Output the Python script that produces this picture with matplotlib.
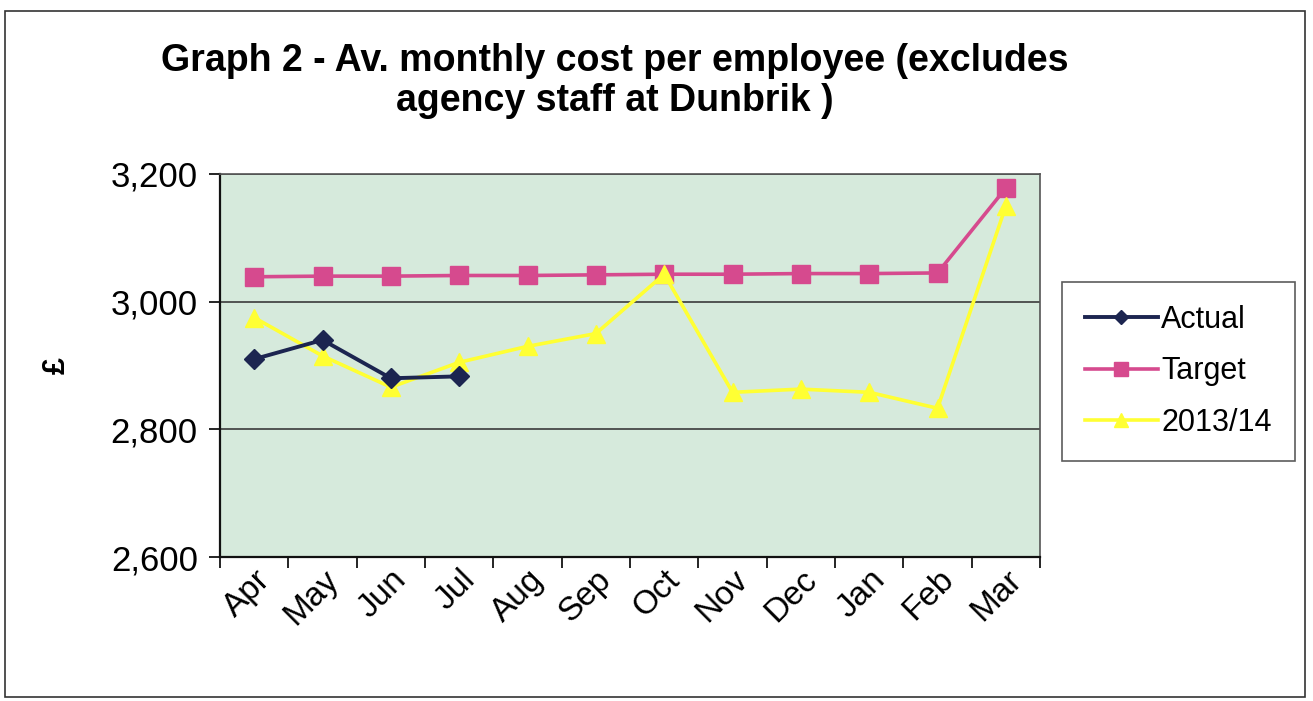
import numpy as np
import matplotlib
matplotlib.use("Agg")
import matplotlib.pyplot as plt
from matplotlib.patches import Rectangle
from matplotlib.ticker import FuncFormatter, FixedLocator

plt.rcParams["font.family"] = ["Liberation Sans", "DejaVu Sans"]

months = ["Apr", "May", "Jun", "Jul", "Aug", "Sep",
          "Oct", "Nov", "Dec", "Jan", "Feb", "Mar"]
actual = [2910, 2940, 2880, 2883]
target = [3039, 3040, 3040, 3041, 3041, 3042, 3043, 3043, 3044, 3044, 3045, 3178]
prev_year = [2975, 2915, 2866, 2905, 2930, 2950, 3043, 2858, 2863, 2858, 2833, 3150]

title = "Graph 2 - Av. monthly cost per employee (excludes\nagency staff at Dunbrik )"

fig = plt.figure(figsize=(13.13, 7.01), dpi=100)
fig.patches.append(Rectangle((0.004, 0.006), 0.99, 0.979, transform=fig.transFigure,
                             fill=False, edgecolor="#333333", lw=1.2))

ax = fig.add_axes([0.1676, 0.2054, 0.6245, 0.5464])
ax.set_facecolor("#d6eadc")

x = np.arange(len(months))
ax.plot(x, prev_year, "-^", color="#ffff33", lw=2.6, ms=13, mec="#ffff33", label="2013/14", zorder=3)
ax.plot(x, target, "-s", color="#d64a8e", lw=2.6, ms=13, mec="#d64a8e", label="Target", zorder=2)
ax.plot(x[:len(actual)], actual, "-D", color="#1c2550", lw=2.8, ms=10, mec="#1c2550", label="Actual", zorder=4)

ax.set_ylim(2600, 3200)
ax.set_xlim(-0.5, len(months) - 0.5)
ax.set_yticks([2600, 2800, 3000, 3200])
ax.yaxis.set_major_formatter(FuncFormatter(lambda v, p: f"{v:,.0f}"))
ax.grid(axis="y", color="#3a3a3a", lw=1.2)
ax.set_axisbelow(True)

ax.xaxis.set_major_locator(FixedLocator(np.arange(-0.5, len(months), 1.0)))
ax.xaxis.set_minor_locator(FixedLocator(x))
ax.set_xticklabels([], minor=False)
ax.set_xticks(x, months, minor=True)
ax.tick_params(axis="x", which="minor", length=0, pad=5, labelsize=24)
ax.tick_params(axis="x", which="major", length=8, direction="out", width=1.2)
ax.tick_params(axis="y", length=8, direction="out", width=1.2, labelsize=25, pad=8)
for lbl in ax.get_xticklabels(minor=True):
    lbl.set_rotation(45)
    lbl.set_ha("right")
    lbl.set_rotation_mode("anchor")

for s in ["left", "bottom"]:
    ax.spines[s].set_color("#111111")
    ax.spines[s].set_linewidth(1.6)
for s in ["top", "right"]:
    ax.spines[s].set_color("#555555")
    ax.spines[s].set_linewidth(1.2)

ax.set_ylabel("£", fontsize=22, fontweight="bold", rotation=90, labelpad=28)

fig.text(0.468, 0.884, title, ha="center", va="center", fontsize=27,
         fontweight="bold", linespacing=1.15)

handles, labels = ax.get_legend_handles_labels()
order = [2, 1, 0]
leg = ax.legend([handles[i] for i in order], [labels[i] for i in order],
                loc="center left", bbox_to_anchor=(1.008, 0.485), fontsize=22,
                frameon=True, fancybox=False, edgecolor="#333333",
                labelspacing=0.7, handlelength=2.4, handletextpad=0.1,
                borderpad=0.75, markerscale=0.75)
leg.get_frame().set_linewidth(1.2)

fig.savefig("out.png", dpi=100)
